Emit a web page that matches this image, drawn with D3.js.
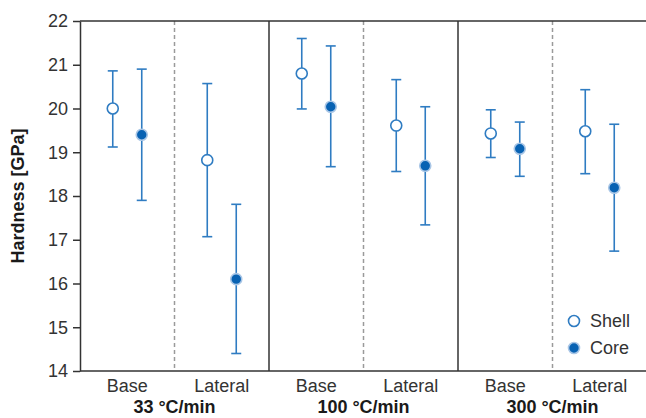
<!DOCTYPE html>
<html>
<head>
<meta charset="utf-8">
<script src="https://cdn.jsdelivr.net/npm/d3@7"></script>
<style>
  html, body { margin: 0; padding: 0; background: #fff; }
  svg { display: block; font-family: "Liberation Sans", Arial, sans-serif; }
</style>
</head>
<body>
<div id="chart"></div>
<script>
const width = 646;
const height = 418;
const margin = { top: 21, right: -1, bottom: 47, left: 80 };
const fontSize = "18px";

// Data
const groups = ["33 °C/min", "100 °C/min", "300 °C/min"];
const locations = ["Base", "Lateral"];
const series = ["Shell", "Core"];
const yTicks = [14, 15, 16, 17, 18, 19, 20, 21, 22];

// per group, per location: [mean, low, high]
const shellValues = [
  [[20.00, 19.12, 20.86], [18.82, 17.07, 20.57]],
  [[20.80, 19.99, 21.60], [19.61, 18.56, 20.66]],
  [[19.43, 18.88, 19.97], [19.48, 18.51, 20.43]]
];
const coreValues = [
  [[19.40, 17.90, 20.90], [16.10, 14.40, 17.81]],
  [[20.04, 18.67, 21.43], [18.69, 17.34, 20.04]],
  [[19.08, 18.45, 19.69], [18.19, 16.74, 19.64]]
];

const lineColor = "#2f7cc2";
const coreFill = "#0862b3";

const rows = [];
groups.forEach((g, gi) => {
  locations.forEach((loc, li) => {
    [shellValues, coreValues].forEach((vals, si) => {
      const [mean, lo, hi] = vals[gi][li];
      rows.push({ group: g, location: loc, series: series[si], mean, lo, hi });
    });
  });
});

const x0 = d3.scaleBand()
  .domain(groups)
  .range([margin.left, width - margin.right]);

const x1 = d3.scaleBand()
  .domain(locations)
  .range([0, x0.bandwidth()]);

const x2 = d3.scalePoint()
  .domain(series)
  .range([0, x1.bandwidth()])
  .padding(1.13);

const y = d3.scaleLinear()
  .domain([14, 22])
  .range([height - margin.bottom, margin.top]);

const xPos = d => x0(d.group) + x1(d.location) + x2(d.series);

const svg = d3.select("#chart")
  .append("svg")
  .attr("width", width)
  .attr("height", height);

// dashed separators between Base and Lateral
svg.append("g")
  .selectAll("line")
  .data(groups)
  .join("line")
    .attr("x1", g => x0(g) + x1("Lateral"))
    .attr("x2", g => x0(g) + x1("Lateral"))
    .attr("y1", y(22))
    .attr("y2", y(14))
    .attr("stroke", "#9a9a9a")
    .attr("stroke-width", 1.5)
    .attr("stroke-dasharray", "4,3");

// solid separators between groups
svg.append("g")
  .selectAll("line")
  .data(groups.slice(1))
  .join("line")
    .attr("x1", g => x0(g))
    .attr("x2", g => x0(g))
    .attr("y1", y(22))
    .attr("y2", y(14))
    .attr("stroke", "#333")
    .attr("stroke-width", 1.5);

// top frame
svg.append("line")
  .attr("x1", margin.left)
  .attr("x2", width)
  .attr("y1", y(22))
  .attr("y2", y(22))
  .attr("stroke", "#333")
  .attr("stroke-width", 1.5);

// y axis
const yAxis = svg.append("g")
  .attr("transform", `translate(${margin.left},0)`)
  .call(d3.axisLeft(y).tickValues(yTicks).tickSize(7).tickPadding(5).tickSizeOuter(0));
yAxis.select(".domain").attr("stroke", "#333").attr("stroke-width", 1.5);
yAxis.selectAll(".tick line").attr("stroke", "#333").attr("stroke-width", 1.5);
yAxis.selectAll(".tick text")
  .attr("fill", "#333")
  .style("font-size", fontSize)
  .style("font-family", "Liberation Sans, Arial, sans-serif");

// x axis baseline
svg.append("line")
  .attr("x1", margin.left)
  .attr("x2", width)
  .attr("y1", y(14))
  .attr("y2", y(14))
  .attr("stroke", "#333")
  .attr("stroke-width", 1.5);

// location labels
const locLabels = [];
groups.forEach(g => locations.forEach(l => locLabels.push({ group: g, location: l })));
svg.append("g")
  .selectAll("text")
  .data(locLabels)
  .join("text")
    .attr("x", d => x0(d.group) + x1(d.location) + x1.bandwidth() / 2)
    .attr("y", y(14) + 21)
    .attr("text-anchor", "middle")
    .attr("fill", "#333")
    .style("font-size", fontSize)
    .text(d => d.location);

// group labels
svg.append("g")
  .selectAll("text")
  .data(groups)
  .join("text")
    .attr("x", g => x0(g) + x0.bandwidth() / 2)
    .attr("y", y(14) + 42)
    .attr("text-anchor", "middle")
    .attr("fill", "#1a1a1a")
    .style("font-size", fontSize)
    .style("font-weight", "bold")
    .text(g => g);

// y label
svg.append("text")
  .attr("transform", `translate(24,${(y(14) + y(22)) / 2}) rotate(-90)`)
  .attr("text-anchor", "middle")
  .attr("fill", "#1a1a1a")
  .style("font-size", fontSize)
  .style("font-weight", "bold")
  .text("Hardness [GPa]");

// error bars
const bars = svg.append("g")
  .attr("stroke", lineColor)
  .attr("stroke-width", 1.6)
  .selectAll("g")
  .data(rows)
  .join("g");

bars.append("line")
  .attr("x1", xPos).attr("x2", xPos)
  .attr("y1", d => y(d.lo)).attr("y2", d => y(d.hi));
bars.append("line")
  .attr("x1", d => xPos(d) - 5).attr("x2", d => xPos(d) + 5)
  .attr("y1", d => y(d.hi)).attr("y2", d => y(d.hi));
bars.append("line")
  .attr("x1", d => xPos(d) - 5).attr("x2", d => xPos(d) + 5)
  .attr("y1", d => y(d.lo)).attr("y2", d => y(d.lo));

// markers
function drawMarker(sel, s) {
  if (s === "Shell") {
    sel.attr("r", 5.5)
      .attr("fill", "#fff")
      .attr("stroke", lineColor)
      .attr("stroke-width", 1.6);
  } else {
    sel.attr("r", 5.5)
      .attr("fill", coreFill)
      .attr("stroke", "#a9c6e6")
      .attr("stroke-width", 1.6);
  }
}

svg.append("g")
  .selectAll("circle")
  .data(rows)
  .join("circle")
    .attr("cx", xPos)
    .attr("cy", d => y(d.mean))
    .each(function (d) { drawMarker(d3.select(this), d.series); });

// legend
const legend = svg.append("g")
  .selectAll("g")
  .data(series)
  .join("g")
    .attr("transform", (d, i) => `translate(574,${321 + i * 27})`);

legend.append("circle")
  .each(function (d) { drawMarker(d3.select(this), d); });

legend.append("text")
  .attr("x", 16)
  .attr("dy", "0.36em")
  .attr("fill", "#333")
  .style("font-size", fontSize)
  .text(d => d);
</script>
</body>
</html>
